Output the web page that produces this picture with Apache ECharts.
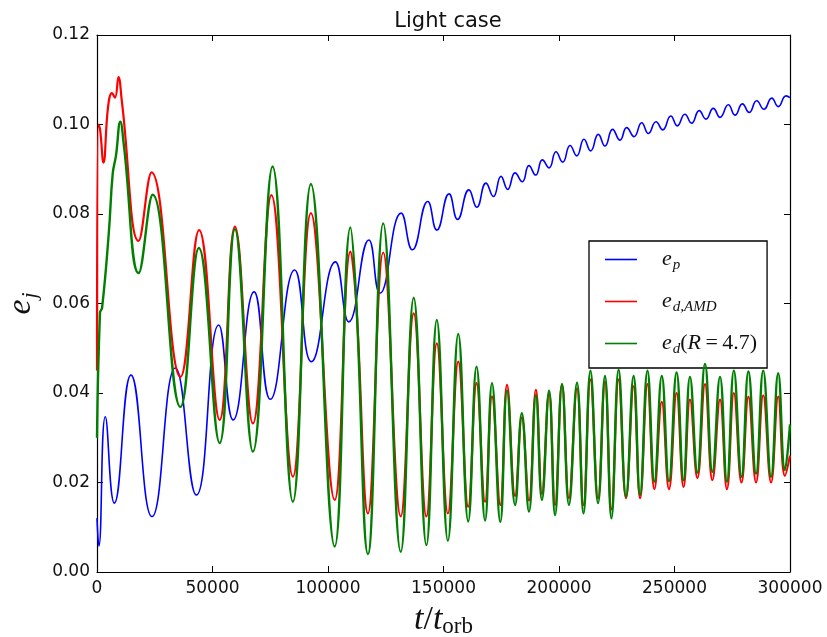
<!DOCTYPE html>
<html><head><meta charset="utf-8">
<script src="https://cdn.jsdelivr.net/npm/echarts@6/dist/echarts.min.js"></script>
<style>html,body{margin:0;padding:0;background:#fff}#c{width:827px;height:637px}</style>
</head><body><div id="c"></div>
<script>
const seriesNames = ['ep', 'edAMD', 'edR'];
const xTickLabels = ['0', '50000', '100000', '150000', '200000', '250000', '300000'];
const yTickLabels = ['0.00', '0.02', '0.04', '0.06', '0.08', '0.10', '0.12'];

// e_p (blue): [t, e]
const ePlanet = [
  [0,0.012],[800,0.0058],[3600,0.0347],[7500,0.0154],[14700,0.0440],[23800,0.0124],
  [33900,0.0456],[43000,0.0172],[52700,0.0552],[58900,0.0340],[68000,0.0626],[75000,0.0386],
  [85600,0.0675],[92800,0.0470],[103200,0.0693],[109000,0.0559],[117700,0.0742],[122500,0.0623],
  [131700,0.0802],[136500,0.0720],[143200,0.0828],[147100,0.0764],[152400,0.0845],[156100,0.0788],
  [161000,0.0854],[164400,0.0815],[168400,0.0869],[171600,0.0839],[174900,0.0884],[177800,0.0855],
  [181000,0.0892],[184100,0.0872],[187000,0.0908],[189900,0.0887],[192800,0.0921],[195700,0.0903],
  [198700,0.0939],[201600,0.0916],[204800,0.0953],[207700,0.0930],[210800,0.0967],[213700,0.0941],
  [217000,0.0978],[219900,0.0952],[223200,0.0989],[226400,0.0965],[229300,0.0993],[232500,0.0973],
  [235800,0.1004],[238700,0.0980],[242000,0.1006],[244900,0.0988],[248400,0.1019],[251200,0.0997],
  [254500,0.1023],[257400,0.1003],[260700,0.1031],[263600,0.1012],[266800,0.1036],[269700,0.1016],
  [273300,0.1044],[276200,0.1021],[279400,0.1046],[282300,0.1027],[285600,0.1053],[288700,0.1034],
  [292100,0.1059],[294900,0.1040],[298300,0.1064],[300000,0.1060]
];

// e_d,AMD (red)
const eDiskAMD = [
  [0,0.045],[600,0.100],[1300,0.099],[2800,0.0915],[4800,0.104],[6500,0.107],[7800,0.106],
  [9300,0.1106],[10800,0.105],[18000,0.0740],[23600,0.0893],[36100,0.0436],[44200,0.0764],
  [53100,0.0340],[59700,0.0772],[67500,0.0332],[75500,0.0842],[84800,0.0213],[92600,0.0802],
  [102900,0.0161],[109700,0.0716],[112100,0.0610],[117300,0.0131],[123900,0.0714],[131500,0.0124],
  [137100,0.0578],[142600,0.0124],[147100,0.0511],[151900,0.0131],[156400,0.0470],[160700,0.0146],
  [164300,0.0422],[168000,0.0157],[171000,0.0392],[174600,0.0150],[177500,0.0418],[181000,0.0170],
  [183900,0.0345],[187000,0.0160],[190000,0.0407],[192600,0.0175],[195700,0.0400],[198300,0.0150],
  [201300,0.0418],[204300,0.0165],[207800,0.0410],[210600,0.0150],[213600,0.0430],[216900,0.0165],
  [219900,0.0425],[222700,0.0140],[225800,0.0430],[229000,0.0165],[232300,0.0415],[235100,0.0165],
  [238300,0.0420],[241300,0.0185],[244500,0.0380],[247600,0.0185],[250900,0.0400],[253900,0.0190],
  [256700,0.0385],[259900,0.0210],[263200,0.0420],[266400,0.0205],[269700,0.0385],[272700,0.0185],
  [275700,0.0400],[279000,0.0200],[282000,0.0392],[285300,0.0200],[288400,0.0395],[291800,0.0200],
  [294900,0.0392],[297800,0.0215],[300000,0.0260]
];

// e_d(R=4.7) (green)
const eDiskR = [
  [0,0.030],[1300,0.058],[2200,0.059],[5100,0.0757],[6800,0.089],[8200,0.093],[10100,0.1006],
  [11700,0.095],[18000,0.0668],[24100,0.0843],[36100,0.0369],[44100,0.0724],[53100,0.0288],
  [59700,0.0766],[67500,0.0269],[76000,0.0906],[84800,0.0157],[92600,0.0867],[102900,0.0057],
  [109700,0.0770],[112100,0.0620],[117300,0.0040],[123900,0.0779],[131500,0.0045],[137100,0.0613],
  [142600,0.0060],[147100,0.0563],[151900,0.0070],[156400,0.0532],[160700,0.0113],[164300,0.0459],
  [168000,0.0115],[171000,0.0422],[174600,0.0112],[177500,0.0405],[181000,0.0150],[183900,0.0355],
  [187000,0.0135],[190000,0.0395],[192600,0.0161],[195700,0.0405],[198300,0.0127],[201300,0.0420],
  [204300,0.0150],[207800,0.0423],[210600,0.0131],[213600,0.0450],[216900,0.0154],[219900,0.0438],
  [222700,0.0120],[225800,0.0452],[229000,0.0168],[232300,0.0438],[235100,0.0172],[238300,0.0450],
  [241300,0.0202],[244500,0.0438],[247600,0.0203],[250900,0.0446],[253900,0.0205],[256700,0.0436],
  [259900,0.0222],[263200,0.0465],[266400,0.0224],[269700,0.0436],[272700,0.0202],[275700,0.0450],
  [279000,0.0213],[282000,0.0448],[285300,0.0220],[288400,0.0450],[291800,0.0213],[294900,0.0444],
  [297800,0.0228],[300000,0.0330]
];

const legendLabels = {
  ep: '{sp| }{e|e}{s|p}',
  edAMD: '{sp| }{e|e}{s|d,AMD}',
  edR: '{sp| }{e|e}{s|d}{r|(}{e|R}{r|\u2009=\u20094.7)}'
};

const serif = 'Liberation Serif';
const tickFont = { fontFamily: 'DejaVu Sans', fontSize: 17, color: '#111' };
const axisLineStyle = { color: '#000', width: 1.2 };

function xAx(pos, showLabel) {
  const a = {
    type: 'value', position: pos, min: 0, max: 300000, interval: 50000,
    axisLine: { show: true, onZero: false, lineStyle: axisLineStyle },
    axisTick: { show: true, inside: true, length: 6, lineStyle: { color: '#000', width: 1 } },
    axisLabel: Object.assign({ show: showLabel, margin: 8, showMinLabel: true, showMaxLabel: true,
      formatter: v => xTickLabels[Math.round(v / 50000)] }, tickFont),
    splitLine: { show: false }
  };
  if (showLabel) {
    a.name = '{t|t}{r|/}{t|t}{o|orb}';
    a.nameLocation = 'middle';
    a.nameGap = 26;
    a.nameTextStyle = { rich: {
      t: { fontFamily: serif, fontStyle: 'italic', fontSize: 34, lineHeight: 32, color: '#111' },
      r: { fontFamily: serif, fontSize: 34, lineHeight: 32, color: '#111' },
      o: { fontFamily: serif, fontSize: 23, lineHeight: 20, padding: [14, 0, 0, 0], color: '#111' }
    } };
  }
  return a;
}
function yAx(pos, showLabel) {
  const a = {
    type: 'value', position: pos, min: 0, max: 0.12, interval: 0.02,
    axisLine: { show: true, onZero: false, lineStyle: axisLineStyle },
    axisTick: { show: true, inside: true, length: 6, lineStyle: { color: '#000', width: 1 } },
    axisLabel: Object.assign({ show: showLabel, margin: 7, showMinLabel: true, showMaxLabel: true,
      formatter: v => yTickLabels[Math.round(v / 0.02)] }, tickFont),
    splitLine: { show: false }
  };
  if (showLabel) {
    a.name = '{e|e}{s|j}';
    a.nameLocation = 'middle';
    a.nameRotate = 90;
    a.nameGap = 60;
    a.nameTextStyle = { rich: {
      e: { fontFamily: serif, fontStyle: 'italic', fontSize: 34, lineHeight: 32, color: '#111' },
      s: { fontFamily: serif, fontStyle: 'italic', fontSize: 22, lineHeight: 20, padding: [18, 0, 0, 1], color: '#111' }
    } };
  }
  return a;
}

const chart = echarts.init(document.getElementById('c'), null, { renderer: 'canvas' });
chart.setOption({
  animation: false,
  backgroundColor: '#fff',
  title: {
    text: 'Light case', left: 443, textAlign: 'center', top: 6,
    textStyle: { fontFamily: 'DejaVu Sans', fontSize: 21, fontWeight: 'normal', color: '#111' }
  },
  grid: { left: 97, right: 37, top: 35, bottom: 65, containLabel: false, outerBoundsMode: 'none' },
  xAxis: [xAx('bottom', true), xAx('top', false)],
  yAxis: [yAx('left', true), yAx('right', false)],
  legend: {
    orient: 'vertical', left: 589, top: 241, data: seriesNames,
    icon: 'rect', itemWidth: 32, itemHeight: 1.6, itemGap: 15,
    padding: [5, 10, 11, 16],
    borderColor: '#000', borderWidth: 1.3, backgroundColor: '#fff', borderRadius: 0,
    selectedMode: false,
    formatter: name => legendLabels[name],
    textStyle: { rich: {
      sp: { width: 20 },
      e: { fontFamily: serif, fontStyle: 'italic', fontSize: 22, lineHeight: 24, color: '#111' },
      r: { fontFamily: serif, fontSize: 22, lineHeight: 24, color: '#111' },
      s: { fontFamily: serif, fontStyle: 'italic', fontSize: 15, lineHeight: 14, padding: [12, 0, 0, 1], color: '#111' }
    } }
  },
  series: [
    { name: 'ep', type: 'line', data: ePlanet, symbol: 'none', smooth: 0.5,
      color: '#0000ff', lineStyle: { color: '#0000ff', width: 1.6 }, z: 2 },
    { name: 'edAMD', type: 'line', data: eDiskAMD, symbol: 'none', smooth: 0.45,
      color: '#ff0000', lineStyle: { color: '#ff0000', width: 2.2 }, z: 3 },
    { name: 'edR', type: 'line', data: eDiskR, symbol: 'none', smooth: 0.45,
      color: '#008000', lineStyle: { color: '#008000', width: 2.4 }, z: 4 }
  ]
});
</script></body></html>
